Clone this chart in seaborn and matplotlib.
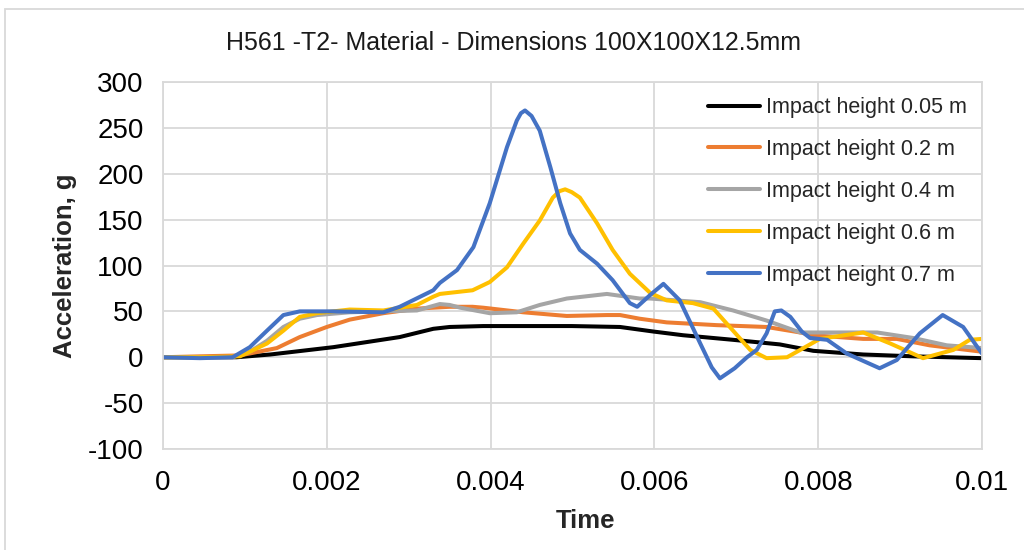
import matplotlib
matplotlib.use("Agg")
import matplotlib.pyplot as plt
from matplotlib.patches import Rectangle
import numpy as np
import pandas as pd
import seaborn as sns

# ---- data (time in ms, acceleration in g) ----
t_005 = [0, 0.90, 1.31, 2.08, 2.89, 3.30, 3.50, 3.91, 4.99, 5.58, 5.99, 6.35, 6.96, 7.53, 7.94, 8.55, 9.16, 10.0]
a_005 = [0, 0, 3, 11, 22, 31, 33, 34, 34, 33, 28, 24, 19, 14, 7, 3, 1, -1]

t_02 = [0, 0.45, 0.94, 1.39, 1.67, 2.00, 2.28, 2.69, 3.10, 3.50, 3.78, 3.91, 4.40, 4.93, 5.42,
        5.58, 5.82, 6.15, 6.76, 7.37, 7.78, 7.94, 8.55, 8.96, 9.36, 10.0]
a_02 = [0, 1, 2, 10, 22, 33, 41, 48, 53, 55, 55, 54, 49, 45, 46,
        46, 42, 38, 35, 33, 27, 24, 20, 20, 13, 6]

t_04 = [0, 0.85, 1.06, 1.27, 1.47, 1.67, 1.88, 2.28, 3.10, 3.38, 3.50, 3.63, 3.99, 4.32, 4.60,
        4.93, 5.42, 5.82, 5.95, 6.56, 6.96, 7.37, 7.78, 7.94, 8.72, 9.16, 9.57, 10.0]
a_04 = [0, 0, 6, 18, 33, 42, 46, 49, 51, 58, 57, 54, 48, 49, 57,
        64, 69, 64, 64, 60, 51, 40, 27, 27, 27, 21, 13, 10]

t_06 = [0, 0.45, 0.94, 1.27, 1.47, 1.67, 1.88, 2.28, 2.69, 3.10, 3.30, 3.38, 3.78, 3.99, 4.20,
        4.40, 4.60, 4.76, 4.84, 4.91, 4.99, 5.09, 5.30, 5.49, 5.70, 5.95, 6.15, 6.47, 6.72, 6.96,
        7.17, 7.37, 7.62, 7.78, 8.02, 8.55, 8.88, 9.28, 9.65, 9.85, 10.0]
a_06 = [0, 0, 1, 15, 29, 44, 48, 52, 51, 57, 66, 69, 73, 82, 98,
        124, 149, 174, 181, 183, 180, 174, 146, 117, 91, 70, 62, 59, 53, 29,
        8, -1, 0, 8, 20, 27, 15, -1, 8, 19, 20]

t_07 = [0, 0.45, 0.85, 1.06, 1.27, 1.47, 1.67, 2.08, 2.69, 2.89, 3.30, 3.38, 3.59, 3.79, 3.99,
        4.20, 4.32, 4.37, 4.42, 4.50, 4.60, 4.73, 4.85, 4.97, 5.09, 5.30, 5.49, 5.70, 5.79, 5.95,
        6.11, 6.31, 6.56, 6.70, 6.80, 6.98, 7.13, 7.25, 7.37, 7.47, 7.55, 7.66, 7.80, 7.90, 8.11,
        8.35, 8.75, 8.96, 9.24, 9.52, 9.77, 10.0]
a_07 = [0, -1, 0, 11, 29, 46, 50, 50, 49, 55, 73, 81, 95, 120, 168,
        229, 258, 266, 269, 263, 247, 207, 168, 135, 117, 102, 84, 59, 55, 68,
        80, 62, 15, -11, -23, -12, 0, 8, 26, 50, 51, 44, 28, 21, 19,
        4, -12, -3, 26, 46, 33, 4]

series_labels = ["Impact height 0.05 m", "Impact height 0.2 m", "Impact height 0.4 m",
                 "Impact height 0.6 m", "Impact height 0.7 m"]
series_colors = ["#000000", "#ED7D31", "#A5A5A5", "#FFC000", "#4472C4"]

x_ticks = [0, 0.002, 0.004, 0.006, 0.008, 0.01]
x_tick_labels = ["0", "0.002", "0.004", "0.006", "0.008", "0.01"]
y_ticks = [-100, -50, 0, 50, 100, 150, 200, 250, 300]

title = "H561 -T2- Material - Dimensions 100X100X12.5mm"

# ---- long-form table ----
frames = []
for lab, t, a in zip(series_labels,
                     [t_005, t_02, t_04, t_06, t_07],
                     [a_005, a_02, a_04, a_06, a_07]):
    frames.append(pd.DataFrame({"Time": np.array(t) / 1000.0, "Acceleration": a, "Series": lab}))
df = pd.concat(frames, ignore_index=True)

sns.set_theme(style="white")
plt.rcParams["font.family"] = ["Liberation Sans", "DejaVu Sans"]
plt.rcParams["axes.unicode_minus"] = False

fig = plt.figure(figsize=(10.24, 5.5), dpi=100)
ax = fig.add_axes([163 / 1024, 1 - 449 / 550, (982 - 163) / 1024, (449 - 82) / 550])

grid_c = "#D9D9D9"
lw = 2.9
sns.lineplot(data=df, x="Time", y="Acceleration", hue="Series", hue_order=series_labels,
             palette=series_colors, estimator=None, sort=False, linewidth=lw, ax=ax,
             solid_joinstyle="round", solid_capstyle="round")

ax.set_xlim(0, 0.01)
ax.set_ylim(-100, 300)
ax.set_xticks(x_ticks)
ax.set_xticklabels(x_tick_labels)
ax.set_yticks(y_ticks)
ax.tick_params(axis="both", length=0, labelsize=20, colors="#000000")
ax.tick_params(axis="x", pad=15)
ax.tick_params(axis="y", pad=14)
ax.grid(True, color=grid_c, linewidth=1.3)
ax.set_axisbelow(True)
ax.axhline(0, color=grid_c, linewidth=1.3, zorder=0.5)
for s in ax.spines.values():
    s.set_color(grid_c)
    s.set_linewidth(1.3)

ax.set_xlabel("Time", fontsize=18.5, fontweight="bold")
ax.set_ylabel("Acceleration, g", fontsize=18.5, fontweight="bold")
ax.xaxis.set_label_coords((585 - 163) / 819, (449 - 521) / 367)
ax.yaxis.set_label_coords((65 - 163) / 819, 0.5)
ax.xaxis.label.set_va("center")
ax.yaxis.label.set_va("center")

leg = ax.legend(loc="upper right", bbox_to_anchor=(1.0, 1.0), frameon=False, fontsize=15.5,
                handlelength=2.4, handletextpad=0.3, labelspacing=0.97,
                borderaxespad=0.3)
for h in leg.get_lines():
    h.set_linewidth(lw)

fig.text(514 / 1024, 1 - 43 / 550, title, ha="center", va="center", fontsize=18, color="#1a1a1a")

# outer chart frame
fig.patches.append(Rectangle((5 / 1024, -0.1), 1.2, 1.1 - 9 / 550, transform=fig.transFigure,
                             fill=False, edgecolor=grid_c, linewidth=1.3))
# descender of the heading line above the chart
fig.text(259 / 1024, 1.0 + 8 / 550, "p", ha="left", va="baseline", fontsize=23, fontweight="bold",
         family=["Liberation Serif", "DejaVu Serif"], color="#000000")

fig.savefig("out.png", dpi=100)
